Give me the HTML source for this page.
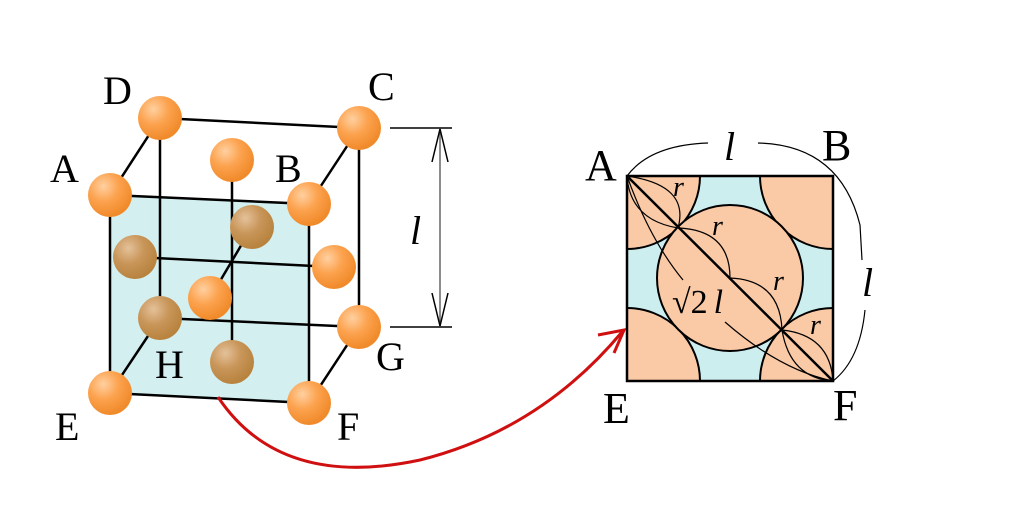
<!DOCTYPE html>
<html><head><style>body{margin:0;background:#fff}</style></head><body>
<svg width="1024" height="512" viewBox="0 0 1024 512" xmlns="http://www.w3.org/2000/svg" font-family="Liberation Serif, serif">
<defs>
<radialGradient id="o" cx="0.35" cy="0.3" r="0.7"><stop offset="0" stop-color="#ffd0a0"/><stop offset="0.5" stop-color="#fca24e"/><stop offset="1" stop-color="#f08a2a"/></radialGradient>
<radialGradient id="b" cx="0.35" cy="0.3" r="0.7"><stop offset="0" stop-color="#e4c19a"/><stop offset="0.5" stop-color="#c9965a"/><stop offset="1" stop-color="#b8833e"/></radialGradient>
<clipPath id="sq"><rect x="627" y="176" width="206" height="205"/></clipPath>
</defs>
<polygon points="110,195 309,204 309,403 110,393" fill="#d3eff0"/>
<g stroke="#000" stroke-width="2.5" fill="none">
<line x1="160" y1="118" x2="359" y2="128"/><line x1="160" y1="118" x2="110" y2="195"/><line x1="359" y1="128" x2="309" y2="204"/>
<line x1="160" y1="118" x2="160" y2="318"/><line x1="359" y1="128" x2="359" y2="327"/>
<line x1="160" y1="318" x2="359" y2="327"/><line x1="160" y1="318" x2="110" y2="393"/><line x1="359" y1="327" x2="309" y2="403"/>
<line x1="232" y1="160" x2="232" y2="362"/><line x1="135" y1="257" x2="334" y2="267"/><line x1="252" y1="227" x2="210" y2="298"/>
</g>
<polygon points="110,195 309,204 309,403 110,393" fill="none" stroke="#000" stroke-width="2.5"/>
<g>
<circle cx="160" cy="318" r="22" fill="url(#b)"/><circle cx="135" cy="257" r="22" fill="url(#b)"/><circle cx="252" cy="227" r="22" fill="url(#b)"/><circle cx="232" cy="362" r="22" fill="url(#b)"/>
<circle cx="160" cy="118" r="22" fill="url(#o)"/><circle cx="359" cy="128" r="22" fill="url(#o)"/><circle cx="359" cy="327" r="22" fill="url(#o)"/><circle cx="232" cy="160" r="22" fill="url(#o)"/><circle cx="334" cy="267" r="22" fill="url(#o)"/><circle cx="210" cy="298" r="22" fill="url(#o)"/>
<circle cx="110" cy="195" r="22" fill="url(#o)"/><circle cx="309" cy="204" r="22" fill="url(#o)"/><circle cx="110" cy="393" r="22" fill="url(#o)"/><circle cx="309" cy="403" r="22" fill="url(#o)"/>
</g>
<g font-size="40" fill="#000">
<text x="103" y="104">D</text><text x="368" y="100">C</text><text x="50" y="182">A</text><text x="275" y="182">B</text>
<text x="155" y="378">H</text><text x="376" y="370">G</text><text x="55" y="440">E</text><text x="337" y="440">F</text>
<text x="410" y="244" font-style="italic">l</text>
</g>
<g stroke="#000" stroke-width="1.5" fill="none">
<line x1="390" y1="128" x2="452" y2="128"/><line x1="390" y1="327" x2="452" y2="327"/>
<line x1="440" y1="129" x2="440" y2="326" stroke="#666"/>
<polyline points="432,162 440,129 448,162"/><polyline points="432,293 440,326 448,293"/>
</g>
<path d="M218,397 Q280,490 420,460 Q540,430 622,332" stroke="#d01010" stroke-width="3" fill="none"/>
<polyline points="598,335 624,330 614,353" stroke="#d01010" stroke-width="3" fill="none"/>
<rect x="627" y="176" width="206" height="205" fill="#cdeeef"/>
<g clip-path="url(#sq)" fill="#fac9a6" stroke="#000" stroke-width="2">
<circle cx="627" cy="176" r="73"/><circle cx="833" cy="176" r="73"/><circle cx="627" cy="381" r="73"/><circle cx="833" cy="381" r="73"/>
</g>
<circle cx="730" cy="278" r="73" fill="#fac9a6" stroke="#000" stroke-width="2"/>
<rect x="627" y="176" width="206" height="205" fill="none" stroke="#000" stroke-width="2.5"/>
<line x1="627" y1="176" x2="833" y2="381" stroke="#000" stroke-width="2.5"/>
<g stroke="#000" stroke-width="1.2" fill="none">
<path d="M627,176 Q690,185 678,228"/><path d="M627,176 Q630,220 678,228"/>
<path d="M678,228 Q730,230 730,278"/><path d="M730,278 Q780,280 782,330"/>
<path d="M782,330 Q830,335 833,381"/><path d="M782,330 Q790,378 833,381"/>
<path d="M627,176 Q650,240 683,280"/><path d="M725,322 Q780,370 833,381"/>
<path d="M627,176 Q650,145 708,143"/><path d="M758,143 Q840,145 860,225 L862,260"/><path d="M865,310 Q860,360 833,381"/>
</g>
<g font-size="44" fill="#000">
<text x="585" y="180">A</text><text x="822" y="160">B</text><text x="603" y="423">E</text><text x="833" y="420">F</text>
<text x="724" y="160" font-style="italic" font-size="40">l</text><text x="862" y="296" font-style="italic" font-size="40">l</text>
</g>
<g font-size="28" font-style="italic" fill="#000">
<text x="673" y="196">r</text><text x="712" y="235">r</text><text x="773" y="290">r</text><text x="810" y="334">r</text>
</g>
<text x="672" y="313" font-size="34" fill="#000">√2<tspan font-style="italic" dx="6">l</tspan></text>
</svg>
</body></html>
